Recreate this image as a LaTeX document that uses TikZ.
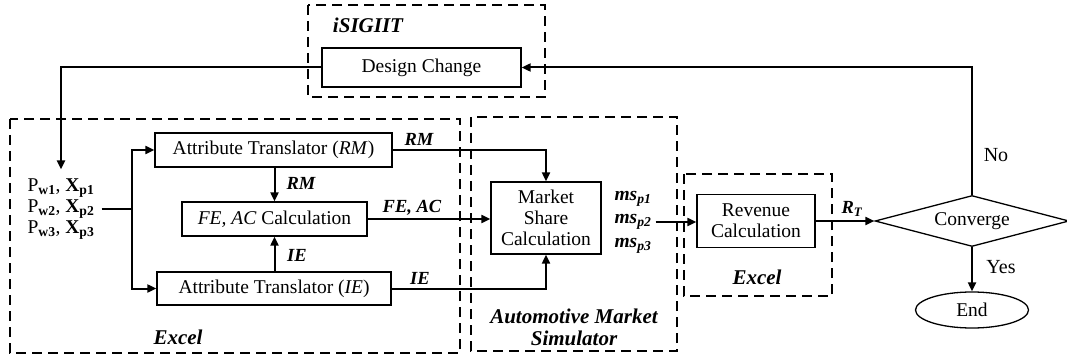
\documentclass[tikz,border=0pt]{standalone}
\usepackage{fontspec}
\setmainfont{Liberation Serif}
\usetikzlibrary{shapes.geometric,arrows.meta,calc}
\newcommand\fsz{\fontsize{19.5}{21}\selectfont}
\newcommand\flab{\fontsize{18.5}{21}\selectfont\bfseries\itshape}
\newcommand\fgrp{\fontsize{21}{22}\selectfont\bfseries\itshape}
\begin{document}
\begin{tikzpicture}[x=1pt,y=-1pt,
  box/.style={draw, line width=1.3pt, inner sep=0pt, align=center, font=\fsz},
  grp/.style={draw, line width=2.7pt, dash pattern=on 10pt off 6pt},
  conn/.style={line width=2pt},
  arr/.style={conn, -{Triangle[length=9pt,width=8pt]}},
  lab/.style={inner sep=0pt, font=\flab},
  glab/.style={inner sep=0pt, font=\fgrp, align=center},
  txt/.style={inner sep=0pt, font=\fsz}]
\useasboundingbox (0,0) rectangle (1067,358);

% group frames
\draw[grp] (308,5) rectangle (545,97);
\draw[grp] (10,119) rectangle (460,353);
\draw[grp] (471,117) rectangle (677,351);
\draw[grp] (684,174) rectangle (832,296);
\node[glab] (gisig) at (368,25) {iSIGIIT};
\node[glab] (gexcel) at (178,337) {Excel};
\node[glab] (gams) at (574,327) {Automotive Market\\Simulator};
\node[glab] (gexcel2) at (757,277) {Excel};

% boxes
\node[box, minimum width=199pt, minimum height=39pt] (dc) at (421.5,67.5) {Design Change};
\node[box, minimum width=237pt, minimum height=34pt] (atrm) at (273.5,150) {Attribute Translator (\textit{RM})};
\node[box, minimum width=185pt, minimum height=34pt] (fe) at (274.5,219) {\textit{FE, AC} Calculation};
\node[box, minimum width=234pt, minimum height=33pt] (atie) at (274,288.5) {Attribute Translator (\textit{IE})};
\node[box, minimum width=110pt, minimum height=72pt] (ms) at (546,218) {Market\\Share\\Calculation};
\node[box, minimum width=118pt, minimum height=53pt] (rev) at (756,221) {Revenue\\Calculation};
\node[draw, diamond, line width=1.3pt, inner sep=0pt, aspect=3.8, minimum width=194pt, minimum height=51pt, font=\fsz] (conv) at (972,221) {Converge};
\node[draw, ellipse, line width=1.3pt, inner sep=0pt, minimum width=113pt, minimum height=36pt, font=\fsz] (end) at (972,310) {End};

% inputs
\node[txt, align=center, inner xsep=7pt] (px) at (61,209) {P\textsubscript{\textbf{w1}}, \textbf{X}\textsubscript{\textbf{p1}}\\P\textsubscript{\textbf{w2}}, \textbf{X}\textsubscript{\textbf{p2}}\\P\textsubscript{\textbf{w3}}, \textbf{X}\textsubscript{\textbf{p3}}};
\node[inner sep=0pt, inner xsep=4pt, align=left, font=\fontsize{19.5}{23.5}\selectfont\bfseries\itshape] (msl) at (633,222) {ms\textsubscript{p1}\\ms\textsubscript{p2}\\ms\textsubscript{p3}};

% connectors
\coordinate (j) at ($(px.east -| atrm.west)+(-22,0)$);
\draw[conn] (px.east) -- (j);
\draw[arr] (j) |- (atrm.west);
\draw[arr] (j) |- (atie.west);
\draw[arr] (fe.north |- atrm.south) -- (fe.north);
\draw[arr] (fe.south |- atie.north) -- (fe.south);
\draw[arr] (atrm.east) -| (ms.north);
\draw[arr] (fe.east) -- (fe.east -| ms.west);
\draw[arr] (atie.east) -| (ms.south);
\draw[arr] (msl.east) -- (msl.east -| rev.west);
\draw[arr] (rev.east) -- (conv.west);
\draw[arr] (conv.north) |- (dc.east);
\draw[arr, shorten >=9pt] (dc.west) -| (px.north);
\draw[arr] (conv.south) -- (end.north);

% connector labels
\node[lab] (lrm1) at (301,183) {RM};
\node[lab] (lie1) at (297,255) {IE};
\node[lab] (lrm2) at (419,139) {RM};
\node[lab] (lfe) at (412,208) {FE, AC};
\node[lab] (lie2) at (420,278) {IE};
\node[lab] (lrt) at (852,209) {R\textsubscript{T}};
\node[txt, font=\fontsize{20}{22}\selectfont] (lno) at (996,155) {No};
\node[txt, font=\fontsize{20}{22}\selectfont] (lyes) at (1001,267) {Yes};
\end{tikzpicture}
\end{document}
